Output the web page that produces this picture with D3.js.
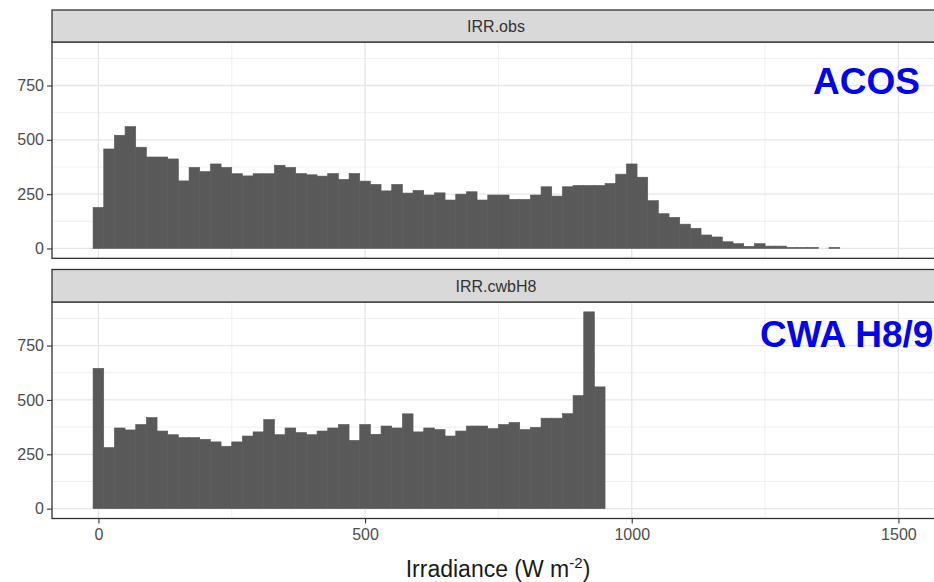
<!DOCTYPE html>
<html>
<head>
<meta charset="utf-8">
<script src="https://cdn.jsdelivr.net/npm/d3@7"></script>
<style>
  html, body { margin: 0; padding: 0; background: #fff; }
  svg { display: block; font-family: "Liberation Sans", Arial, sans-serif; }
</style>
</head>
<body>
<svg id="chart" width="934" height="582"></svg>
<script>
// ---- data (counts per 20 W m-2 bin, bin centres 0, 20, 40, ...) ----
const binWidth = 20;
const panelNames = ["IRR.obs", "IRR.cwbH8"];
const panelLabels = ["ACOS", "CWA H8/9"];
const obsCounts = [189,458,521,561,466,421,421,412,311,373,354,389,373,344,334,344,344,383,373,345,
                   339,333,345,318,345,310,295,265,295,255,267,246,256,223,250,261,223,246,246,226,
                   226,246,284,241,284,290,290,290,299,342,389,328,220,160,143,112,93,62,53,31,
                   22,10,22,11,11,5,5,5,0,5];
const cwbCounts = [645,281,371,362,387,419,357,340,327,327,319,307,287,307,334,353,410,340,371,350,
                   340,357,371,387,314,387,342,380,371,436,353,371,364,334,357,380,380,368,387,396,
                   364,374,416,416,437,520,905,560];
const xTicks = [0, 500, 1000, 1500];
const xMinor = [250, 750, 1250];
const yTicks = [0, 250, 500, 750];
const yMinor = [125, 375, 625, 875];
const xTitle = "Irradiance (W m";
const xTitleSup = "-2";

// ---- layout ----
const svg = d3.select("#chart");
const plotLeft = 52, plotRight = 940;
const panels = [
  {name: panelNames[0], label: panelLabels[0], counts: obsCounts, stripTop: 10, top: 42, bottom: 258.3, labelX: 813, labelY: 94},
  {name: panelNames[1], label: panelLabels[1], counts: cwbCounts, stripTop: 269.5, top: 302, bottom: 518.5, labelX: 760, labelY: 347}
];

const x = d3.scaleLinear().domain([0, 1500]).range([98.4, 898.4]);
const yMax = d3.max([...obsCounts, ...cwbCounts]);

panels.forEach((p, pi) => {
  const y = d3.scaleLinear().domain([-0.05 * yMax, 1.05 * yMax]).range([p.bottom, p.top]);
  const g = svg.append("g");

  g.append("rect").attr("x", plotLeft).attr("y", p.top)
    .attr("width", plotRight - plotLeft).attr("height", p.bottom - p.top)
    .attr("fill", "#fff");

  // minor grid
  g.selectAll(".xminor").data(xMinor).join("line")
    .attr("x1", d => x(d)).attr("x2", d => x(d)).attr("y1", p.top).attr("y2", p.bottom)
    .attr("stroke", "#ebebeb").attr("stroke-width", 0.8);
  g.selectAll(".yminor").data(yMinor).join("line")
    .attr("x1", plotLeft).attr("x2", plotRight).attr("y1", d => y(d)).attr("y2", d => y(d))
    .attr("stroke", "#ebebeb").attr("stroke-width", 0.8);
  // major grid
  g.selectAll(".xmajor").data(xTicks).join("line")
    .attr("x1", d => x(d)).attr("x2", d => x(d)).attr("y1", p.top).attr("y2", p.bottom)
    .attr("stroke", "#e6e6e6").attr("stroke-width", 1.3);
  g.selectAll(".ymajor").data(yTicks).join("line")
    .attr("x1", plotLeft).attr("x2", plotRight).attr("y1", d => y(d)).attr("y2", d => y(d))
    .attr("stroke", "#e6e6e6").attr("stroke-width", 1.3);

  // bars
  const bins = p.counts.map((c, i) => ({x0: i * binWidth - binWidth / 2, x1: i * binWidth + binWidth / 2, n: c}));
  g.selectAll(".bar").data(bins.filter(b => b.n > 0)).join("rect")
    .attr("x", d => x(d.x0)).attr("width", d => x(d.x1) - x(d.x0))
    .attr("y", d => y(d.n)).attr("height", d => y(0) - y(d.n))
    .attr("fill", "#595959").attr("stroke", "#595959").attr("stroke-width", 0.6);

  // panel border
  g.append("rect").attr("x", plotLeft).attr("y", p.top)
    .attr("width", plotRight - plotLeft).attr("height", p.bottom - p.top)
    .attr("fill", "none").attr("stroke", "#333").attr("stroke-width", 1.3);

  // strip
  g.append("rect").attr("x", plotLeft).attr("y", p.stripTop)
    .attr("width", plotRight - plotLeft).attr("height", p.top - p.stripTop)
    .attr("fill", "#d9d9d9").attr("stroke", "#333").attr("stroke-width", 1.3);
  g.append("text").attr("x", (plotLeft + plotRight) / 2).attr("y", (p.stripTop + p.top) / 2 + 6)
    .attr("text-anchor", "middle").attr("font-size", 16).attr("fill", "#333")
    .text(p.name);

  // y axis
  const yAxis = d3.axisLeft(y).tickValues(yTicks).tickFormat(d3.format("d")).tickSize(5).tickPadding(3);
  const ya = g.append("g").attr("transform", `translate(${plotLeft},0)`).call(yAxis);
  ya.select(".domain").remove();
  ya.selectAll(".tick line").attr("stroke", "#333").attr("stroke-width", 1.1);
  ya.selectAll(".tick text").attr("font-size", 16).attr("fill", "#4d4d4d")
    .attr("font-family", "'Liberation Sans', Arial, sans-serif");

  // x axis on bottom panel only
  if (pi === panels.length - 1) {
    const xAxis = d3.axisBottom(x).tickValues(xTicks).tickFormat(d3.format("d")).tickSize(5).tickPadding(5);
    const xa = g.append("g").attr("transform", `translate(0,${p.bottom})`).call(xAxis);
    xa.select(".domain").remove();
    xa.selectAll(".tick line").attr("stroke", "#333").attr("stroke-width", 1.1);
    xa.selectAll(".tick text").attr("font-size", 16).attr("fill", "#4d4d4d")
      .attr("font-family", "'Liberation Sans', Arial, sans-serif");
  }

  // annotation label
  g.append("text").attr("x", p.labelX).attr("y", p.labelY)
    .attr("font-size", 37).attr("font-weight", "bold").attr("fill", "#0000ff")
    .text(p.label);
});

// x axis title
const t = svg.append("text").attr("x", 498).attr("y", 577)
  .attr("text-anchor", "middle").attr("font-size", 23).attr("fill", "#1a1a1a");
t.append("tspan").text(xTitle);
t.append("tspan").attr("font-size", 15).attr("dy", -9).text(xTitleSup);
t.append("tspan").attr("dy", 9).text(")");
</script>
</body>
</html>
